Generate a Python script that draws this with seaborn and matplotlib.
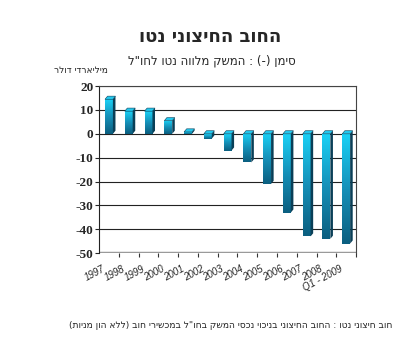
import numpy as np
import pandas as pd
import matplotlib
matplotlib.use("Agg")
import matplotlib.pyplot as plt
from matplotlib.patches import Polygon
from matplotlib.colors import LinearSegmentedColormap
from matplotlib.transforms import ScaledTranslation
import seaborn as sns

# ---- data ----
years = ["1997", "1998", "1999", "2000", "2001", "2002", "2003", "2004",
         "2005", "2006", "2007", "2008", "Q1 - 2009"]
values = [14.5, 9.5, 9.5, 5.5, 0.8, -2.0, -7.0, -12.0, -21.0, -33.0, -43.0, -44.0, -46.0]
yticks = [20, 10, 0, -10, -20, -30, -40, -50]

title = "החוב החיצוני נטו"
subtitle = 'סימן (-) : המשק מלווה נטו לחו"ל'
unit = "מיליארדי דולר"
footnote = 'חוב חיצוני נטו : החוב החיצוני בניכוי נכסי המשק בחו"ל במכשירי חוב (ללא הון מניות)'


def rtl(s):
    mirror = {"(": ")", ")": "(", "[": "]", "]": "["}
    return "".join(mirror.get(c, c) for c in reversed(s))


sns.set_style("white")
plt.rcParams["font.family"] = ["DejaVu Sans"]

fig = plt.figure(figsize=(4.06, 3.53), dpi=100)
ax = fig.add_axes([0.244, 0.283, 0.633, 0.473])

df = pd.DataFrame({"year": years, "value": values})
sns.barplot(data=df, x="year", y="value", ax=ax, color="#10b8e0",
            width=0.4, order=years, zorder=3)

ax.set_ylim(-50, 20)
ax.set_xlim(-0.5, len(years) - 0.5)

# gridlines / wall
for t in yticks[:-1]:
    ax.axhline(t, color="#222222", lw=0.8, zorder=1)
ax.axhline(-50, color="#9a9a9a", lw=2.5, zorder=2)

cmap = LinearSegmentedColormap.from_list("bar", ["#0b5f80", "#1590b8", "#1ad0f5"])
dx, dy = 0.13, 1.3
for p in list(ax.patches):
    x0, y0 = p.get_x(), p.get_y()
    w, h = p.get_width(), p.get_height()
    ylo, yhi = min(y0, y0 + h), max(y0, y0 + h)
    x1 = x0 + w
    p.set_facecolor("none")
    p.set_edgecolor("none")
    grad = np.linspace(0, 1, 64).reshape(-1, 1)
    im = ax.imshow(grad, cmap=cmap, origin="lower", aspect="auto",
                   extent=[x0, x1, ylo, yhi], zorder=3)
    im.set_clip_path(p)
    side = Polygon([(x1, ylo), (x1 + dx, ylo + dy), (x1 + dx, yhi + dy), (x1, yhi)],
                   closed=True, facecolor="#0a3f57", edgecolor="none", zorder=3)
    top = Polygon([(x0, yhi), (x0 + dx, yhi + dy), (x1 + dx, yhi + dy), (x1, yhi)],
                  closed=True, facecolor="#22c8ee", edgecolor="#0a3f57", lw=0.4, zorder=3)
    ax.add_patch(side)
    ax.add_patch(top)

ax.set_xlim(-0.5, len(years) - 0.5)
ax.set_ylim(-50, 20)

for s in ["top", "right"]:
    ax.spines[s].set_visible(True)
    ax.spines[s].set_color("#444444")
    ax.spines[s].set_linewidth(0.8)
ax.spines["left"].set_color("#222222")
ax.spines["left"].set_linewidth(0.8)
ax.spines["bottom"].set_visible(False)

ax.set_yticks(yticks)
ax.set_yticklabels([str(t) for t in yticks], fontfamily="Liberation Serif",
                   fontweight="bold", fontsize=9.5)
ax.tick_params(axis="y", length=3, width=0.8, direction="out", left=True, pad=1)

ax.set_xticks(range(len(years)))
ax.set_xticklabels(years, rotation=28, ha="right", rotation_mode="anchor",
                   fontstyle="italic", fontfamily="Liberation Sans", fontsize=7)
ax.tick_params(axis="x", which="major", length=0, pad=8)
ax.set_xticks(np.arange(len(years)) + 0.5, minor=True)
ax.tick_params(axis="x", which="minor", length=3, width=0.8, color="#333333",
               direction="out", bottom=True)
shift = ScaledTranslation(-7 / 100, 0, fig.dpi_scale_trans)
for lab in ax.get_xticklabels():
    lab.set_transform(lab.get_transform() + shift)
ax.set_xlabel("")
ax.set_ylabel("")

fig.text(0.517, 0.895, rtl(title), ha="center", va="center",
         fontsize=13, fontweight="bold")
fig.text(0.522, 0.828, rtl(subtitle), ha="center", va="center", fontsize=8.5)
fig.text(0.2, 0.80, rtl(unit), ha="center", va="center", fontsize=6.5)
fig.text(0.567, 0.077, rtl(footnote), ha="center", va="center", fontsize=6.6)

fig.savefig("out.png", dpi=100, facecolor="white")
